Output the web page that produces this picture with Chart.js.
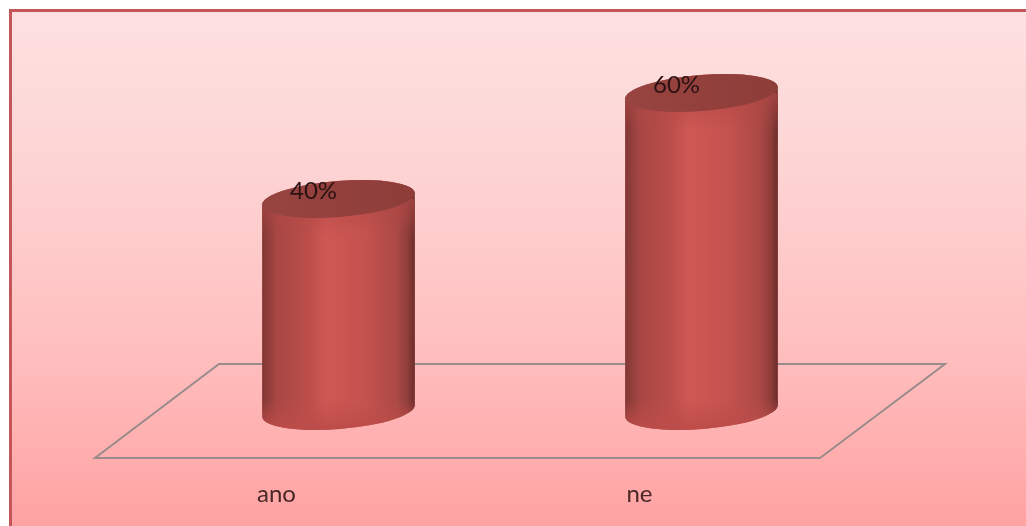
<!DOCTYPE html>
<html lang="cs">
<head>
    <meta charset="UTF-8">
    <title>ano / ne</title>
    <script src="https://cdn.jsdelivr.net/npm/chart.js"></script>
    <style>
        html, body { margin: 0; padding: 0; background: #fff; overflow: hidden; }
        #frame {
            position: absolute; left: 9px; top: 9px; width: 1017px; height: 517px;
            box-sizing: border-box;
            border-left: 3px solid #c4565a; border-top: 3px solid #c4565a;
            background: linear-gradient(#fee0e0 0%, #fdd9d9 20%, #fecece 40%, #ffbdbd 68%, #ffa2a2 100%);
        }
        #wrap { position: absolute; left: 0; top: 0; width: 1026px; height: 526px; }
    </style>
</head>
<body>
    <div id="frame"></div>
    <div id="wrap"><canvas id="graf"></canvas></div>

    <script>
        const categories = ['ano', 'ne'];
        const values = [40, 60];

        // valec: naklonene elipsy nahore a dole
        const tilt = -4.5 * Math.PI / 180;
        const ry = 18;

        function cylinderPath(ctx, bar) {
            const rx = bar.width / 2;
            ctx.moveTo(bar.x + rx * Math.cos(tilt), bar.base + rx * Math.sin(tilt));
            ctx.ellipse(bar.x, bar.base, rx, ry, tilt, 0, Math.PI);
            ctx.ellipse(bar.x, bar.y, rx, ry, tilt, Math.PI, 2 * Math.PI);
            ctx.closePath();
        }

        const cylinders = {
            id: 'cylinders',
            beforeDatasetsDraw(chart) {
                const ctx = chart.ctx;
                const a = chart.chartArea;
                const y0 = chart.scales.y.getPixelForValue(0);

                // podlaha
                ctx.save();
                ctx.strokeStyle = '#9a8c8c';
                ctx.lineWidth = 2;
                ctx.beginPath();
                ctx.moveTo(a.left - 62, y0 + 47);
                ctx.lineTo(a.right - 63, y0 + 47);
                ctx.lineTo(a.right + 62, y0 - 47);
                ctx.lineTo(a.left + 62, y0 - 47);
                ctx.closePath();
                ctx.stroke();
                ctx.restore();

                ctx.save();
                ctx.beginPath();
                chart.getDatasetMeta(0).data.forEach(bar => cylinderPath(ctx, bar));
                ctx.clip();
            },
            afterDatasetsDraw(chart) {
                const ctx = chart.ctx;
                ctx.restore();
                chart.getDatasetMeta(0).data.forEach((bar, i) => {
                    const rx = bar.width / 2;
                    const g = ctx.createLinearGradient(bar.x - rx, 0, bar.x + rx, 0);
                    g.addColorStop(0, '#803734');
                    g.addColorStop(0.1, '#a84744');
                    g.addColorStop(0.3, '#bb4e4a');
                    g.addColorStop(0.42, '#cf5854');
                    g.addColorStop(0.68, '#c4524e');
                    g.addColorStop(0.88, '#ab4945');
                    g.addColorStop(0.95, '#8f3e3b');
                    g.addColorStop(1, '#6c2d2b');
                    ctx.save();
                    ctx.beginPath();
                    cylinderPath(ctx, bar);
                    ctx.fillStyle = g;
                    ctx.fill();
                    ctx.clip();

                    // spodek valce je u okraju svetlejsi
                    const low = ctx.createLinearGradient(0, bar.base - 12, 0, bar.base + 18);
                    low.addColorStop(0, 'rgba(188,76,73,0)');
                    low.addColorStop(1, 'rgba(188,76,73,0.95)');
                    ctx.fillStyle = low;
                    ctx.fillRect(bar.x - rx, bar.base - 12, bar.width, 32);

                    // horni cast pod vikem
                    const up = ctx.createLinearGradient(0, bar.y, 0, bar.y + 38);
                    up.addColorStop(0, 'rgba(176,72,69,0.7)');
                    up.addColorStop(1, 'rgba(176,72,69,0)');
                    ctx.fillStyle = up;
                    ctx.fillRect(bar.x - rx, bar.y, bar.width, 38);
                    ctx.restore();

                    // vrchni vicko
                    const cap = ctx.createLinearGradient(bar.x - rx, 0, bar.x + rx, 0);
                    cap.addColorStop(0, '#984441');
                    cap.addColorStop(1, '#8e3d39');
                    ctx.beginPath();
                    ctx.ellipse(bar.x, bar.y, rx, ry, tilt, 0, 2 * Math.PI);
                    ctx.fillStyle = cap;
                    ctx.fill();

                    // popisek hodnoty
                    ctx.fillStyle = '#2b1212';
                    ctx.font = '24px Lato';
                    ctx.textAlign = 'center';
                    ctx.textBaseline = 'middle';
                    ctx.fillText(values[i] + '%', bar.x - 25, bar.y - 8);
                });
            }
        };

        new Chart(document.getElementById('graf'), {
            type: 'bar',
            data: {
                labels: categories,
                datasets: [{
                    data: values,
                    backgroundColor: '#c0504d',
                    borderWidth: 0,
                    barThickness: 153
                }]
            },
            options: {
                responsive: true,
                maintainAspectRatio: false,
                animation: false,
                layout: { padding: { left: 157, right: 143, top: 40, bottom: 0 } },
                plugins: { legend: { display: false }, tooltip: { enabled: false } },
                scales: {
                    x: {
                        grid: { display: false, drawTicks: false },
                        border: { display: false },
                        afterFit(scale) { scale.height = 115; },
                        ticks: {
                            color: '#4a2626',
                            font: { family: 'Lato', size: 24 },
                            padding: 69,
                            labelOffset: -62,
                            maxRotation: 0
                        }
                    },
                    y: { display: false, min: 0, max: 70 }
                }
            },
            plugins: [cylinders]
        });
    </script>
</body>
</html>
